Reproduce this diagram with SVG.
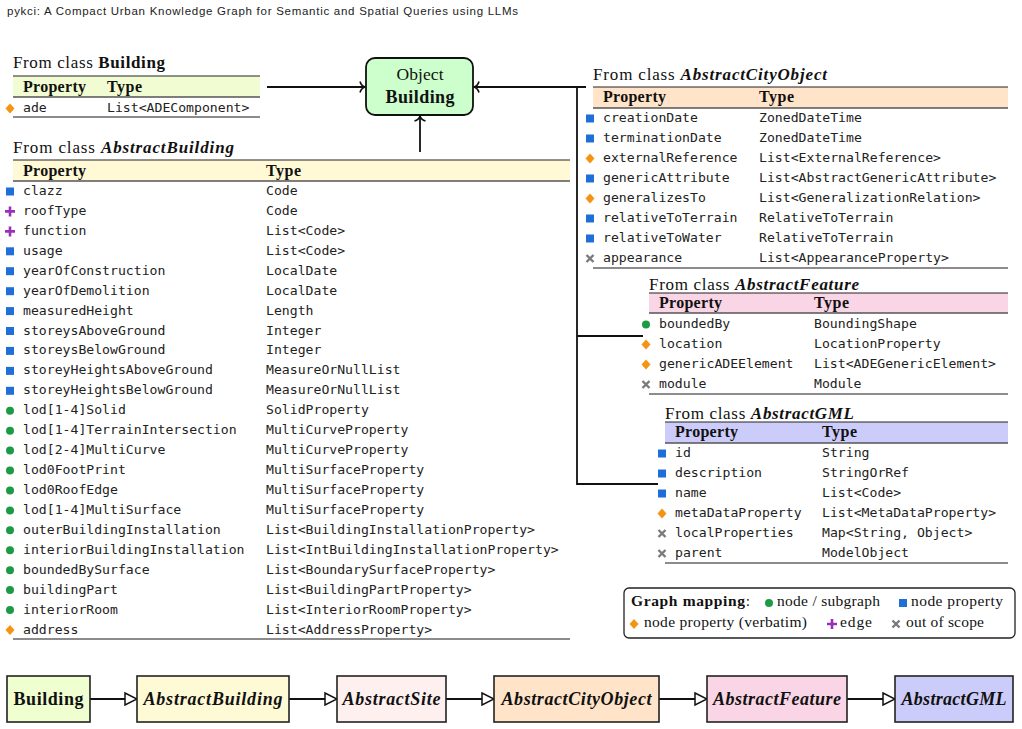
<svg xmlns="http://www.w3.org/2000/svg" xmlns:xlink="http://www.w3.org/1999/xlink" width="1022" height="729" viewBox="0 0 1022 729">
<style>
.ttl{font-family:"Liberation Serif",serif;font-size:17px;fill:#111}
.hd{font-family:"Liberation Serif",serif;font-size:16px;font-weight:bold;fill:#111}
.mono{font-family:"DejaVu Sans Mono",monospace;font-size:13.15px;fill:#222}
.top{stroke:#222;stroke-width:1}
.mid{stroke:#555;stroke-width:1.3}
.bot{stroke:#666;stroke-width:1.6}
.con{fill:none;stroke:#111;stroke-width:1.8}
.box{stroke:#222;stroke-width:1.6}
.blab{font-family:"Liberation Serif",serif;font-size:18px;font-weight:bold;fill:#111;text-anchor:middle}
.leg{font-family:"Liberation Serif",serif;font-size:15.5px;fill:#111}
</style>
<defs>
<rect id="m-sq" x="-4" y="-4" width="8" height="8" fill="#1f6fd8"/>
<polygon id="m-di" points="0,-5 4.5,0 0,5 -4.5,0" fill="#f39412"/>
<circle id="m-ci" r="4" fill="#1c9a45"/>
<path id="m-pl" d="M-5,0H5M0,-5V5" stroke="#9b30b8" stroke-width="2.6" fill="none"/>
<path id="m-x" d="M-3.5,-3.5L3.5,3.5M-3.5,3.5L3.5,-3.5" stroke="#7a7a7a" stroke-width="2.4" fill="none"/>
<marker id="to" viewBox="-8 -7 10 14" refX="0" refY="0" markerWidth="10" markerHeight="14" markerUnits="userSpaceOnUse" orient="auto">
<path d="M-5,-5.5 C-4,-2 -2,-0.6 0,0 C-2,0.6 -4,2 -5,5.5" fill="none" stroke="#111" stroke-width="1.6"/>
</marker>
<marker id="tri" viewBox="0 -7 14 14" refX="13" refY="0" markerWidth="14" markerHeight="14" markerUnits="userSpaceOnUse" orient="auto">
<path d="M1,-6 L13,0 L1,6 Z" fill="#fff" stroke="#111" stroke-width="1.5"/>
</marker>
</defs>
<rect width="1022" height="729" fill="#fff"/>
<text x="7" y="14.5" font-family="Liberation Sans, sans-serif" font-size="11.5" fill="#222" textLength="511">pykci: A Compact Urban Knowledge Graph for Semantic and Spatial Queries using LLMs</text>

<g id="connectors">
<path class="con" d="M267,87 H365" marker-end="url(#to)"/>
<path class="con" d="M586,87 H474" marker-end="url(#to)"/>
<path class="con" d="M420,152 V116" marker-end="url(#to)"/>
<path class="con" d="M577,87 V484 H658 M577,336 H643"/>
<path class="con" d="M90,699 H137" marker-end="url(#tri)"/>
<path class="con" d="M289,699 H337" marker-end="url(#tri)"/>
<path class="con" d="M446,699 H494" marker-end="url(#tri)"/>
<path class="con" d="M659,699 H707" marker-end="url(#tri)"/>
<path class="con" d="M847,699 H895" marker-end="url(#tri)"/>
</g>

<g id="object-building">
<rect x="366" y="58" width="107" height="57" rx="9" fill="#ccffcc" stroke="#111" stroke-width="1.8"/>
<text x="420" y="80" text-anchor="middle" font-family="Liberation Serif, serif" font-size="17.5" fill="#111" textLength="47">Object</text>
<text x="420" y="103" text-anchor="middle" font-family="Liberation Serif, serif" font-size="18" font-weight="bold" fill="#111" textLength="69">Building</text>
</g>

<g id="table-building">
<text class="ttl" x="13" y="68" textLength="152">From class <tspan font-weight="bold">Building</tspan></text>
<rect x="13" y="76" width="247" height="21" fill="#f1fcd2"/>
<line class="top" x1="13" y1="76" x2="260" y2="76"/>
<line class="mid" x1="13" y1="97" x2="260" y2="97"/>
<text class="hd" x="23" y="91.5" textLength="63">Property</text>
<text class="hd" x="107" y="91.5" textLength="35">Type</text>
<use href="#m-di" x="10" y="108.5"/>
<text class="mono" x="23" y="112">ade</text>
<text class="mono" x="107" y="112">List&lt;ADEComponent&gt;</text>
<line class="bot" x1="13" y1="117" x2="260" y2="117"/>
</g>

<g id="table-abstractbuilding">
<text class="ttl" x="13" y="153" textLength="221">From class <tspan font-weight="bold" font-style="italic">AbstractBuilding</tspan></text>
<rect x="13" y="160" width="557" height="21" fill="#fff9d6"/>
<line class="top" x1="13" y1="160" x2="570" y2="160"/>
<line class="mid" x1="13" y1="181" x2="570" y2="181"/>
<text class="hd" x="23" y="175.5" textLength="63">Property</text>
<text class="hd" x="266" y="175.5" textLength="35">Type</text>
<use href="#m-sq" x="10" y="191.5"/><text class="mono" x="23" y="195">clazz</text><text class="mono" x="266" y="195">Code</text>
<use href="#m-pl" x="10" y="211.4"/><text class="mono" x="23" y="214.9">roofType</text><text class="mono" x="266" y="214.9">Code</text>
<use href="#m-pl" x="10" y="231.4"/><text class="mono" x="23" y="234.9">function</text><text class="mono" x="266" y="234.9">List&lt;Code&gt;</text>
<use href="#m-sq" x="10" y="251.3"/><text class="mono" x="23" y="254.8">usage</text><text class="mono" x="266" y="254.8">List&lt;Code&gt;</text>
<use href="#m-sq" x="10" y="271.2"/><text class="mono" x="23" y="274.7">yearOfConstruction</text><text class="mono" x="266" y="274.7">LocalDate</text>
<use href="#m-sq" x="10" y="291.2"/><text class="mono" x="23" y="294.7">yearOfDemolition</text><text class="mono" x="266" y="294.7">LocalDate</text>
<use href="#m-sq" x="10" y="311.1"/><text class="mono" x="23" y="314.6">measuredHeight</text><text class="mono" x="266" y="314.6">Length</text>
<use href="#m-sq" x="10" y="331"/><text class="mono" x="23" y="334.5">storeysAboveGround</text><text class="mono" x="266" y="334.5">Integer</text>
<use href="#m-sq" x="10" y="350.9"/><text class="mono" x="23" y="354.4">storeysBelowGround</text><text class="mono" x="266" y="354.4">Integer</text>
<use href="#m-sq" x="10" y="370.9"/><text class="mono" x="23" y="374.4">storeyHeightsAboveGround</text><text class="mono" x="266" y="374.4">MeasureOrNullList</text>
<use href="#m-sq" x="10" y="390.8"/><text class="mono" x="23" y="394.3">storeyHeightsBelowGround</text><text class="mono" x="266" y="394.3">MeasureOrNullList</text>
<use href="#m-ci" x="10" y="410.7"/><text class="mono" x="23" y="414.2">lod[1-4]Solid</text><text class="mono" x="266" y="414.2">SolidProperty</text>
<use href="#m-ci" x="10" y="430.7"/><text class="mono" x="23" y="434.2">lod[1-4]TerrainIntersection</text><text class="mono" x="266" y="434.2">MultiCurveProperty</text>
<use href="#m-ci" x="10" y="450.6"/><text class="mono" x="23" y="454.1">lod[2-4]MultiCurve</text><text class="mono" x="266" y="454.1">MultiCurveProperty</text>
<use href="#m-ci" x="10" y="470.5"/><text class="mono" x="23" y="474">lod0FootPrint</text><text class="mono" x="266" y="474">MultiSurfaceProperty</text>
<use href="#m-ci" x="10" y="490.5"/><text class="mono" x="23" y="494">lod0RoofEdge</text><text class="mono" x="266" y="494">MultiSurfaceProperty</text>
<use href="#m-ci" x="10" y="510.4"/><text class="mono" x="23" y="513.9">lod[1-4]MultiSurface</text><text class="mono" x="266" y="513.9">MultiSurfaceProperty</text>
<use href="#m-ci" x="10" y="530.3"/><text class="mono" x="23" y="533.8">outerBuildingInstallation</text><text class="mono" x="266" y="533.8">List&lt;BuildingInstallationProperty&gt;</text>
<use href="#m-ci" x="10" y="550.2"/><text class="mono" x="23" y="553.7">interiorBuildingInstallation</text><text class="mono" x="266" y="553.7">List&lt;IntBuildingInstallationProperty&gt;</text>
<use href="#m-ci" x="10" y="570.2"/><text class="mono" x="23" y="573.7">boundedBySurface</text><text class="mono" x="266" y="573.7">List&lt;BoundarySurfaceProperty&gt;</text>
<use href="#m-ci" x="10" y="590.1"/><text class="mono" x="23" y="593.6">buildingPart</text><text class="mono" x="266" y="593.6">List&lt;BuildingPartProperty&gt;</text>
<use href="#m-ci" x="10" y="610"/><text class="mono" x="23" y="613.5">interiorRoom</text><text class="mono" x="266" y="613.5">List&lt;InteriorRoomProperty&gt;</text>
<use href="#m-di" x="10" y="630"/><text class="mono" x="23" y="633.5">address</text><text class="mono" x="266" y="633.5">List&lt;AddressProperty&gt;</text>
<line class="bot" x1="13" y1="639" x2="570" y2="639"/>
</g>

<g id="table-abstractcityobject">
<text class="ttl" x="593" y="80" textLength="234">From class <tspan font-weight="bold" font-style="italic">AbstractCityObject</tspan></text>
<rect x="593" y="87" width="415" height="21" fill="#ffe4c9"/>
<line class="top" x1="593" y1="87" x2="1008" y2="87"/>
<line class="mid" x1="593" y1="108" x2="1008" y2="108"/>
<text class="hd" x="603" y="102" textLength="63">Property</text>
<text class="hd" x="759" y="102" textLength="35">Type</text>
<use href="#m-sq" x="590" y="118.5"/><text class="mono" x="603" y="122">creationDate</text><text class="mono" x="759" y="122">ZonedDateTime</text>
<use href="#m-sq" x="590" y="138.5"/><text class="mono" x="603" y="142">terminationDate</text><text class="mono" x="759" y="142">ZonedDateTime</text>
<use href="#m-di" x="590" y="158.5"/><text class="mono" x="603" y="162">externalReference</text><text class="mono" x="759" y="162">List&lt;ExternalReference&gt;</text>
<use href="#m-sq" x="590" y="178.5"/><text class="mono" x="603" y="182">genericAttribute</text><text class="mono" x="759" y="182">List&lt;AbstractGenericAttribute&gt;</text>
<use href="#m-di" x="590" y="198.5"/><text class="mono" x="603" y="202">generalizesTo</text><text class="mono" x="759" y="202">List&lt;GeneralizationRelation&gt;</text>
<use href="#m-sq" x="590" y="218.5"/><text class="mono" x="603" y="222">relativeToTerrain</text><text class="mono" x="759" y="222">RelativeToTerrain</text>
<use href="#m-sq" x="590" y="238.5"/><text class="mono" x="603" y="242">relativeToWater</text><text class="mono" x="759" y="242">RelativeToTerrain</text>
<use href="#m-x" x="590" y="258.5"/><text class="mono" x="603" y="262">appearance</text><text class="mono" x="759" y="262">List&lt;AppearanceProperty&gt;</text>
<line class="bot" x1="593" y1="268" x2="1008" y2="268"/>
</g>

<g id="table-abstractfeature">
<text class="ttl" x="649" y="290" textLength="210">From class <tspan font-weight="bold" font-style="italic">AbstractFeature</tspan></text>
<rect x="649" y="293" width="359" height="20" fill="#f9d5e5"/>
<line class="top" x1="649" y1="293" x2="1008" y2="293"/>
<line class="mid" x1="649" y1="313" x2="1008" y2="313"/>
<text class="hd" x="659" y="308" textLength="63">Property</text>
<text class="hd" x="814" y="308" textLength="35">Type</text>
<use href="#m-ci" x="646" y="324.5"/><text class="mono" x="659" y="328">boundedBy</text><text class="mono" x="814" y="328">BoundingShape</text>
<use href="#m-di" x="646" y="344.5"/><text class="mono" x="659" y="348">location</text><text class="mono" x="814" y="348">LocationProperty</text>
<use href="#m-di" x="646" y="364.5"/><text class="mono" x="659" y="368">genericADEElement</text><text class="mono" x="814" y="368">List&lt;ADEGenericElement&gt;</text>
<use href="#m-x" x="646" y="384.5"/><text class="mono" x="659" y="388">module</text><text class="mono" x="814" y="388">Module</text>
<line class="bot" x1="649" y1="394" x2="1008" y2="394"/>
</g>

<g id="table-abstractgml">
<text class="ttl" x="665" y="419" textLength="189">From class <tspan font-weight="bold" font-style="italic">AbstractGML</tspan></text>
<rect x="665" y="422" width="343" height="21" fill="#ccccfb"/>
<line class="top" x1="665" y1="422" x2="1008" y2="422"/>
<line class="mid" x1="665" y1="443" x2="1008" y2="443"/>
<text class="hd" x="675" y="437" textLength="63">Property</text>
<text class="hd" x="822" y="437" textLength="35">Type</text>
<use href="#m-sq" x="662" y="453.5"/><text class="mono" x="675" y="457">id</text><text class="mono" x="822" y="457">String</text>
<use href="#m-sq" x="662" y="473.5"/><text class="mono" x="675" y="477">description</text><text class="mono" x="822" y="477">StringOrRef</text>
<use href="#m-sq" x="662" y="493.5"/><text class="mono" x="675" y="497">name</text><text class="mono" x="822" y="497">List&lt;Code&gt;</text>
<use href="#m-di" x="662" y="513.5"/><text class="mono" x="675" y="517">metaDataProperty</text><text class="mono" x="822" y="517">List&lt;MetaDataProperty&gt;</text>
<use href="#m-x" x="662" y="533.5"/><text class="mono" x="675" y="537">localProperties</text><text class="mono" x="822" y="537">Map&lt;String, Object&gt;</text>
<use href="#m-x" x="662" y="553.5"/><text class="mono" x="675" y="557">parent</text><text class="mono" x="822" y="557">ModelObject</text>
<line class="bot" x1="665" y1="563" x2="1008" y2="563"/>
</g>

<g id="legend">
<rect x="624" y="588" width="391" height="50" rx="5" fill="#fff" stroke="#222" stroke-width="1.3"/>
<text class="leg" x="631" y="606" textLength="119"><tspan font-weight="bold">Graph mapping</tspan>:</text>
<use href="#m-ci" x="769" y="603"/>
<text class="leg" x="777" y="606" textLength="103">node / subgraph</text>
<use href="#m-sq" x="903" y="603"/>
<text class="leg" x="911" y="606" textLength="92">node property</text>
<use href="#m-di" x="634" y="624"/>
<text class="leg" x="644" y="627" textLength="163">node property (verbatim)</text>
<use href="#m-pl" x="832" y="624"/>
<text class="leg" x="840" y="627" textLength="32">edge</text>
<use href="#m-x" x="896" y="624"/>
<text class="leg" x="906" y="627" textLength="78">out of scope</text>
</g>

<g id="node-building">
<rect class="box" x="7" y="676" width="83" height="46" fill="#f0ffcf"/>
<text class="blab" x="48.5" y="705" textLength="70">Building</text>
</g>
<g id="node-abstractbuilding">
<rect class="box" x="137" y="676" width="152" height="46" fill="#fffad6"/>
<text class="blab" x="213" y="705" font-style="italic" textLength="139">AbstractBuilding</text>
</g>
<g id="node-abstractsite">
<rect class="box" x="337" y="676" width="109" height="46" fill="#fff0f0"/>
<text class="blab" x="391.5" y="705" font-style="italic" textLength="98">AbstractSite</text>
</g>
<g id="node-abstractcityobject">
<rect class="box" x="494" y="676" width="165" height="46" fill="#ffe4c9"/>
<text class="blab" x="576.5" y="705" font-style="italic" textLength="150">AbstractCityObject</text>
</g>
<g id="node-abstractfeature">
<rect class="box" x="707" y="676" width="140" height="46" fill="#f9d5e5"/>
<text class="blab" x="777" y="705" font-style="italic" textLength="128">AbstractFeature</text>
</g>
<g id="node-abstractgml">
<rect class="box" x="895" y="676" width="118" height="46" fill="#ccccfb"/>
<text class="blab" x="954" y="705" font-style="italic" textLength="105">AbstractGML</text>
</g>
</svg>
